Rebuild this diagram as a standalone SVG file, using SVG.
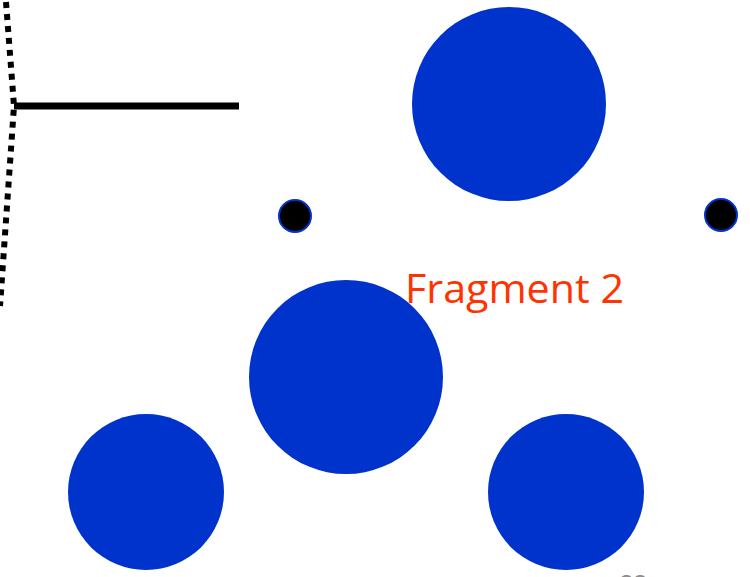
<svg xmlns="http://www.w3.org/2000/svg" width="750" height="577" viewBox="0 0 750 577">
<style>
.big{fill:#0033cc}
.dot{fill:#000;stroke:#0033cc;stroke-width:2}
</style>
<rect width="750" height="577" fill="#fff"/>
<g id="connectors">
<polyline points="6,2 14,106 0,306" fill="none" stroke="#000" stroke-width="6" stroke-dasharray="6 6"/>
<line x1="14" y1="106" x2="239" y2="106" stroke="#000" stroke-width="7"/>
</g>
<g id="c-top"><circle class="big" cx="509" cy="104" r="97"/></g>
<g id="c-mid"><circle class="big" cx="346" cy="377" r="97"/></g>
<g id="c-bl"><circle class="big" cx="146" cy="492" r="78"/></g>
<g id="c-br"><circle class="big" cx="566" cy="492" r="78"/></g>
<g id="d1"><circle class="dot" cx="295" cy="216" r="16"/></g>
<g id="d2"><circle class="dot" cx="721" cy="215" r="16"/></g>
<g id="label"><text x="405" y="303" font-family="'Open Sans', 'Liberation Sans', sans-serif" font-size="40" fill="#ff3300" textLength="219" lengthAdjust="spacingAndGlyphs">Fragment 2</text></g>
<text x="620" y="592" font-family="'Open Sans', 'Liberation Sans', sans-serif" font-size="24" fill="#8c8c8c">22</text>
</svg>
